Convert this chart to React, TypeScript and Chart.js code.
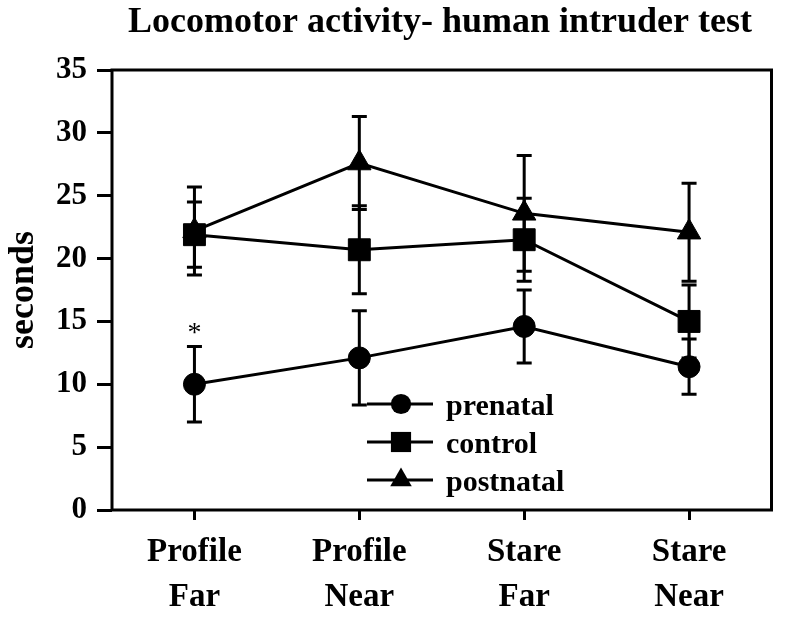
import { useEffect, useRef } from 'react';
import { Chart, registerables } from 'chart.js';

Chart.register(...registerables);

// ---- data ----
const categories: string[][] = [
  ['Profile', 'Far'],
  ['Profile', 'Near'],
  ['Stare', 'Far'],
  ['Stare', 'Near'],
];
const seriesNames = ['prenatal', 'control', 'postnatal'];
const prenatal = [10.0, 12.1, 14.6, 11.4];
const prenatalErr = [3.0, 3.75, 2.9, 2.2];
const control = [21.9, 20.7, 21.5, 15.0];
const controlErr = [2.6, 3.5, 3.3, 2.9];
const postnatal = [22.2, 27.6, 23.6, 22.1];
const postnatalErr = [3.5, 3.7, 4.6, 3.9];
const yTickValues = [0, 5, 10, 15, 20, 25, 30, 35];
const chartTitle = 'Locomotor activity- human intruder test';
const yAxisTitle = 'seconds';
const significanceMark = { index: 0, value: 14.4, text: '*' };

const seriesValues = [prenatal, control, postnatal];
const seriesErrors = [prenatalErr, controlErr, postnatalErr];
const pointStyles = ['circle', 'rect', 'triangle'];
const pointRadii = [11, 15.5, 13.5];

const FONT = "'Liberation Serif', 'Times New Roman', serif";

function drawMarker(ctx: CanvasRenderingContext2D, style: string, x: number, y: number, r: number) {
  ctx.beginPath();
  if (style === 'circle') {
    ctx.arc(x, y, r, 0, Math.PI * 2);
  } else if (style === 'rect') {
    const s = Math.SQRT1_2 * r;
    ctx.rect(x - s, y - s, 2 * s, 2 * s);
  } else {
    ctx.moveTo(x, y - r);
    ctx.lineTo(x + r * Math.cos(Math.PI / 6), y + r / 2);
    ctx.lineTo(x - r * Math.cos(Math.PI / 6), y + r / 2);
    ctx.closePath();
  }
  ctx.fill();
}

export default function App() {
  const ref = useRef<HTMLCanvasElement>(null);

  useEffect(() => {
    const canvas = ref.current!;
    const datasets = seriesNames.map((name, k) => ({
      label: name,
      data: seriesValues[k],
      borderColor: '#000',
      backgroundColor: '#000',
      borderWidth: 3,
      pointStyle: pointStyles[k] as any,
      pointRadius: pointRadii[k],
      pointHoverRadius: pointRadii[k],
      pointBackgroundColor: '#000',
      pointBorderColor: '#000',
      pointBorderWidth: 1,
      tension: 0,
      fill: false,
    }));

    const errorBars = {
      id: 'errorBars',
      beforeDatasetsDraw(chart: any) {
        const ctx = chart.ctx as CanvasRenderingContext2D;
        const xs = chart.scales.x;
        const ys = chart.scales.y;
        ctx.save();
        ctx.strokeStyle = '#000';
        ctx.lineWidth = 3;
        ctx.lineCap = 'butt';
        seriesValues.forEach((vals, k) => {
          vals.forEach((v, i) => {
            const e = seriesErrors[k][i];
            const x = xs.getPixelForValue(i);
            const yTop = ys.getPixelForValue(v + e);
            const yBot = ys.getPixelForValue(v - e);
            ctx.beginPath();
            ctx.moveTo(x, yTop);
            ctx.lineTo(x, yBot);
            ctx.moveTo(x - 7.5, yTop);
            ctx.lineTo(x + 7.5, yTop);
            ctx.moveTo(x - 7.5, yBot);
            ctx.lineTo(x + 7.5, yBot);
            ctx.stroke();
          });
        });
        ctx.restore();
      },
    };

    const decorations = {
      id: 'decorations',
      afterDraw(chart: any) {
        const ctx = chart.ctx as CanvasRenderingContext2D;
        const area = chart.chartArea;
        const xs = chart.scales.x;
        const ys = chart.scales.y;
        ctx.save();
        // frame
        ctx.strokeStyle = '#000';
        ctx.lineWidth = 3;
        ctx.strokeRect(area.left, area.top, area.right - area.left, area.bottom - area.top);
        // title
        ctx.fillStyle = '#000';
        ctx.font = `bold 36px ${FONT}`;
        ctx.textAlign = 'center';
        ctx.textBaseline = 'alphabetic';
        ctx.fillText(chartTitle, 440, 32);
        // significance mark
        ctx.font = `28px ${FONT}`;
        ctx.textBaseline = 'middle';
        ctx.fillText(
          significanceMark.text,
          xs.getPixelForValue(significanceMark.index),
          ys.getPixelForValue(significanceMark.value) + 5
        );
        // legend
        const rowsY = [404, 442, 480];
        ctx.font = `bold 30px ${FONT}`;
        ctx.textAlign = 'left';
        ctx.textBaseline = 'alphabetic';
        seriesNames.forEach((name, k) => {
          const y = rowsY[k];
          ctx.beginPath();
          ctx.moveTo(367, y);
          ctx.lineTo(433, y);
          ctx.lineWidth = 3;
          ctx.stroke();
          drawMarker(ctx, pointStyles[k], 401, y, pointRadii[k] * 0.92);
          ctx.fillText(name, 446, y + 11);
        });
        ctx.restore();
      },
    };

    const chart = new Chart(canvas, {
      type: 'line',
      data: { labels: categories as any, datasets: datasets as any },
      options: {
        animation: false,
        responsive: false,
        maintainAspectRatio: false,
        layout: { padding: { top: 70, right: 15, left: 0, bottom: 0 } },
        plugins: {
          legend: { display: false },
          title: { display: false },
          tooltip: { enabled: false },
        },
        scales: {
          x: {
            type: 'category',
            offset: true,
            grid: {
              display: true,
              drawOnChartArea: false,
              drawTicks: true,
              tickLength: 10,
              tickWidth: 3,
              color: '#000',
              offset: false,
            },
            border: { display: false },
            ticks: {
              color: '#000',
              padding: 10,
              maxRotation: 0,
              autoSkip: false,
              font: { family: FONT, size: 33, weight: 'bold', lineHeight: 1.36 },
            },
            afterFit(scale: any) {
              scale.height = 110;
            },
          },
          y: {
            type: 'linear',
            min: 0,
            max: 35,
            afterBuildTicks(scale: any) {
              scale.ticks = yTickValues.map((v) => ({ value: v }));
            },
            grid: {
              display: true,
              drawOnChartArea: false,
              drawTicks: true,
              tickLength: 15,
              tickWidth: 3,
              color: '#000',
            },
            border: { display: false },
            ticks: {
              color: '#000',
              padding: 10,
              font: { family: FONT, size: 31, weight: 'bold' },
            },
            title: {
              display: true,
              text: yAxisTitle,
              color: '#000',
              padding: { top: 2, bottom: 0 },
              font: { family: FONT, size: 36, weight: 'bold', lineHeight: 1.2 },
            },
            afterFit(scale: any) {
              scale.width = 112;
            },
          },
        },
      } as any,
      plugins: [errorBars, decorations],
    });

    return () => chart.destroy();
  }, []);

  return (
    <div style={{ position: 'absolute', left: 0, top: 0, width: 788, height: 620, background: '#fff' }}>
      <canvas ref={ref} width={788} height={620} style={{ display: 'block', width: 788, height: 620 }} />
    </div>
  );
}
